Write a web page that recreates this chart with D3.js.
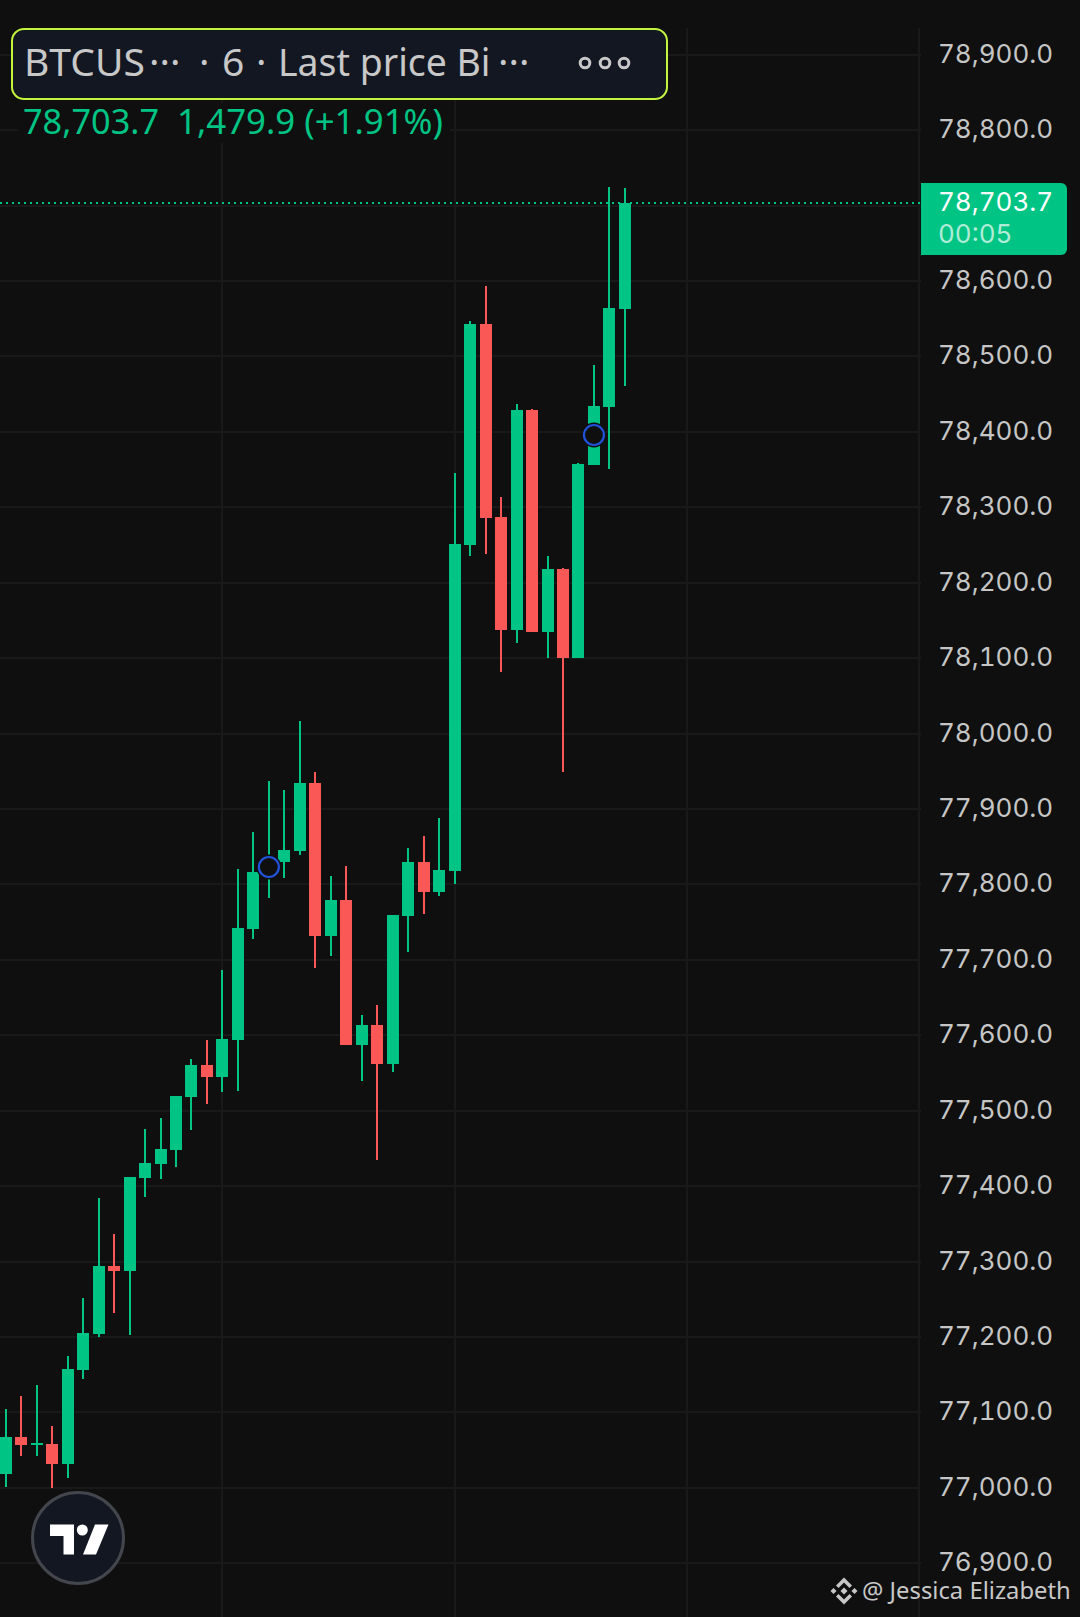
<!DOCTYPE html>
<html>
<head>
<meta charset="utf-8">
<script src="https://cdn.jsdelivr.net/npm/d3@7"></script>
<style>
html, body { margin: 0; padding: 0; background: #0f0f0f; overflow: hidden; }
svg { display: block; font-family: "Noto Sans", sans-serif; }
.tnum { font-family: Inter; font-variant-numeric: tabular-nums; font-feature-settings: "tnum" 1; }
</style>
</head>
<body>
<svg id="pic" width="1080" height="1617"></svg>
<script>
// candles, left to right
var opens = [77018.8,77067.4,77056.8,77058.2,77031.7,77156.3,77204.0,77294.1,77287.5,77410.8,77429.4,77447.9,77518.2,77560.6,77544.7,77593.8,77740.9,77816.5,77829.7,77844.3,77934.5,77731.6,77779.3,77587.1,77613.6,77561.9,77758.1,77829.7,77790.0,77817.8,78250.0,78543.0,78287.1,78137.3,78429.0,78134.7,78218.2,78100.2,78356.1,78433.0,78562.9];
var highs = [77104.6,77121.8,77136.4,77082.0,77174.8,77251.7,77384.3,77336.6,77412.1,77475.8,77490.3,77519.5,77568.6,77593.8,77686.6,77820.4,77869.5,77937.1,77925.2,78016.7,77949.1,77811.2,77824.4,77626.9,77640.2,77759.5,77848.3,77864.2,77888.1,78345.4,78547.0,78593.4,78313.6,78436.9,78430.3,78235.4,78219.5,78358.7,78488.6,78724.6,78723.3];
var lows = [77001.2,77042.3,77042.3,76999.8,77013.1,77144.3,77200.0,77231.8,77202.7,77385.6,77409.5,77425.4,77474.4,77508.9,77524.8,77526.1,77727.7,77782.0,77808.5,77839.0,77689.2,77705.1,77587.1,77539.4,77434.7,77551.3,77710.4,77760.8,77784.7,77800.6,78235.4,78238.1,78081.6,78120.1,78134.7,78100.2,77949.1,78100.2,78356.1,78350.8,78460.8];
var closes = [77067.4,77056.8,77059.5,77031.7,77157.6,77205.3,77294.1,77287.5,77412.1,77430.7,77449.3,77519.5,77560.6,77544.7,77595.1,77742.2,77816.5,77829.7,77845.7,77934.5,77731.6,77779.3,77587.1,77613.6,77561.9,77759.5,77829.7,77790.0,77819.1,78251.3,78543.0,78285.8,78137.3,78429.0,78134.7,78218.2,78100.2,78357.4,78434.3,78564.2,78703.7];

var priceTicks = d3.range(76900, 78901, 100);
var hiddenTick = 78700; // sits under the last price badge
var gridIndex = [14, 29, 44];
var markerIndex = [17, 38];
var markerPrice = [77823.5, 78396];
var lastPrice = 78703.7;
var countdown = "00:05";
var legendParts = ["BTCUS", "\u00B7\u00B7\u00B7", "\u00B7", "6", "\u00B7", "Last price Bi", "\u00B7\u00B7\u00B7"];
var legendPartX = [24, 149, 199, 222, 256, 278, 498];
var legendPartSize = [39, 39, 39, 39, 39, 37.4, 39];
var legendPrice = "78,703.7";
var legendChange = "1,479.9 (+1.91%)";
var credit = "@ Jessica Elizabeth";

var bg = "#0f0f0f", gridColor = "#191919", up = "#00c484", down = "#fa5757", axisText = "#c6c6c6";

var svg = d3.select("#pic");

//Scales
var x = d3.scaleLinear().domain([0, 40]).range([5.7, 624.9]);
var y = d3.scaleLinear().domain([78900, 76900]).rangeRound([54.7, 1563.3]);

svg.append("rect").attr("width", 1080).attr("height", 1617).attr("fill", bg);

//Vertical grid
svg.selectAll(".vgrid").data(gridIndex).enter().append("line")
    .attr("x1", function(d){return Math.round(x(d));})
    .attr("x2", function(d){return Math.round(x(d));})
    .attr("y1", 28).attr("y2", 1617)
    .attr("stroke", gridColor).attr("stroke-width", 2);
svg.append("line").attr("x1", 919).attr("x2", 919).attr("y1", 28).attr("y2", 1617)
    .attr("stroke", gridColor).attr("stroke-width", 2);

//Price axis, the ticks double as horizontal grid
var y_axis = d3.axisRight(y).tickValues(priceTicks).tickFormat(d3.format(",.1f")).tickSize(921).tickPadding(17).offset(0);
var axis = svg.append("g").call(y_axis);
axis.select(".domain").remove();
axis.selectAll("line").attr("stroke", gridColor).attr("stroke-width", 2);
axis.selectAll("text").attr("class", "tnum").attr("fill", axisText).attr("font-size", 26).attr("font-family", null).attr("dy", 7.8);
axis.selectAll(".tick").filter(function(d){return d === hiddenTick;}).select("text").remove();

//Last price line
svg.append("line").attr("x1", 0).attr("x2", 921).attr("y1", y(lastPrice)).attr("y2", y(lastPrice))
    .attr("stroke", up).attr("stroke-width", 2).attr("stroke-dasharray", "2 4");

//Candles
var candles = svg.selectAll(".candle").data(d3.range(opens.length)).enter().append("g").attr("class", "candle");
candles.append("rect")
    .attr("x", function(i){return Math.round(x(i)) - 1;})
    .attr("width", 2)
    .attr("y", function(i){return y(highs[i]);})
    .attr("height", function(i){return y(lows[i]) - y(highs[i]);})
    .attr("fill", function(i){return closes[i] >= opens[i] ? up : down;});
candles.append("rect")
    .attr("x", function(i){return Math.round(x(i)) - 6;})
    .attr("width", 12)
    .attr("y", function(i){return y(Math.max(opens[i], closes[i]));})
    .attr("height", function(i){return Math.max(2, y(Math.min(opens[i], closes[i])) - y(Math.max(opens[i], closes[i])));})
    .attr("fill", function(i){return closes[i] >= opens[i] ? up : down;});

//Blue markers
markerIndex.forEach(function(d, i){
    svg.append("circle").attr("cx", x(d)).attr("cy", y(markerPrice[i])).attr("r", 12.5).attr("fill", bg);
    svg.append("circle").attr("cx", x(d)).attr("cy", y(markerPrice[i])).attr("r", 10)
        .attr("fill", bg).attr("stroke", "#2152d9").attr("stroke-width", 2.2);
});

//Legend
svg.append("rect").attr("x", 12).attr("y", 29).attr("width", 655).attr("height", 70).attr("rx", 12)
    .attr("fill", "#131722").attr("stroke", "#c3f53c").attr("stroke-width", 2);
svg.selectAll(".legendpart").data(legendParts).enter().append("text")
    .attr("x", function(d, i){return legendPartX[i];})
    .attr("y", 76).attr("fill", "#c8c8c8")
    .attr("font-size", function(d, i){return legendPartSize[i];})
    .text(function(d){return d;});
[585, 605, 624].forEach(function(cx){
    svg.append("circle").attr("cx", cx).attr("cy", 63).attr("r", 4.8)
        .attr("fill", "none").attr("stroke", "#c8c8c8").attr("stroke-width", 3);
});
svg.append("rect").attr("x", 18).attr("y", 103).attr("width", 432).attr("height", 40).attr("fill", bg);
svg.append("text").attr("x", 23).attr("y", 134).attr("font-size", 34.3).attr("fill", up).text(legendPrice);
svg.append("text").attr("x", 177).attr("y", 134).attr("font-size", 34.8).attr("fill", up).text(legendChange);

//Last price badge
svg.append("path").attr("d", "M921 183H1061a6 6 0 0 1 6 6V249a6 6 0 0 1 -6 6H921Z").attr("fill", up);
svg.append("text").attr("class", "tnum").attr("x", 938).attr("y", 211).attr("font-size", 26).attr("fill", "#ffffff").text(d3.format(",.1f")(lastPrice));
svg.append("text").attr("class", "tnum").attr("x", 938).attr("y", 243).attr("font-size", 26).attr("fill", "#ffffff").attr("fill-opacity", 0.7).text(countdown);

//TradingView badge
svg.append("circle").attr("cx", 78).attr("cy", 1538).attr("r", 45.5)
    .attr("fill", "#131722").attr("stroke", "#44464d").attr("stroke-width", 3);
var logo = svg.append("g").attr("fill", "#ffffff");
logo.append("path").attr("d", "M50 1524.5H74V1554.5H63.5V1536H50Z");
logo.append("circle").attr("cx", 82.3).attr("cy", 1530).attr("r", 5.5);
logo.append("path").attr("d", "M95 1524.5H108.5L96 1554.5H83Z");

//Credit line with the diamond icon
var icon = svg.append("g").attr("transform", "translate(844,1591)").attr("fill", "#c8c8c8");
icon.append("path").attr("d", "M-3.5 0L0 -3.5L3.5 0L0 3.5Z");
icon.append("path").attr("d", "M-13.5 0L-10.5 -3L-7.5 0L-10.5 3Z");
icon.append("path").attr("d", "M13.5 0L10.5 -3L7.5 0L10.5 3Z");
icon.append("path").attr("d", "M0 -13.5L8 -5.5L5.5 -3L0 -8.5L-5.5 -3L-8 -5.5Z");
icon.append("path").attr("d", "M0 13.5L8 5.5L5.5 3L0 8.5L-5.5 3L-8 5.5Z");
svg.append("text").attr("x", 862).attr("y", 1599).attr("font-size", 23.8).attr("fill", "#c8c8c8").text(credit);
</script>
</body>
</html>
